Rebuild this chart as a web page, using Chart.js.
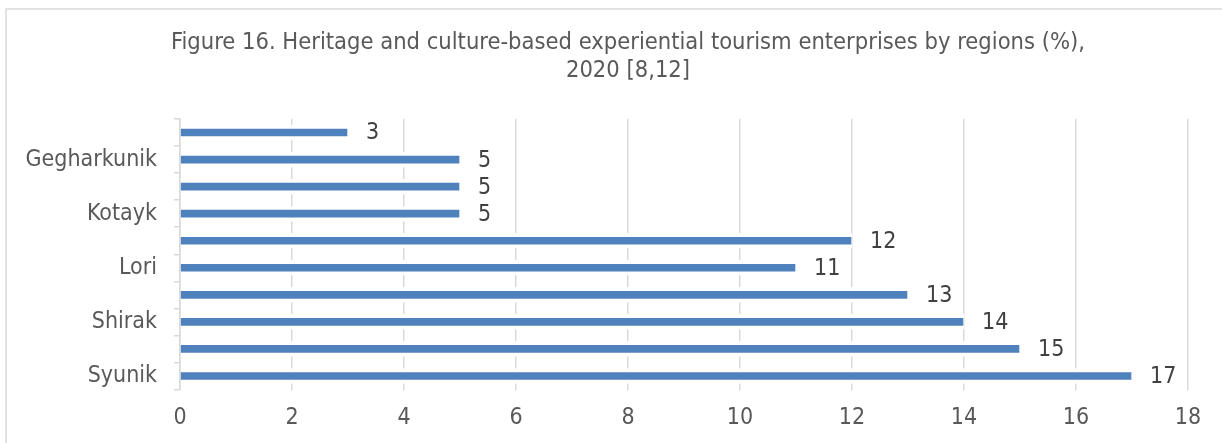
<!DOCTYPE html>
<html>
<head>
<meta charset="utf-8">
<script src="https://cdn.jsdelivr.net/npm/chart.js@4/dist/chart.umd.min.js"></script>
<style>
  html, body { margin: 0; padding: 0; background: #fff; }
  #wrap { width: 1222px; height: 443px; position: relative; }
  canvas { display: block; }
</style>
</head>
<body>
<div id="wrap"><canvas id="c" width="1222" height="443"></canvas></div>
<script>
const titleLines = ["Figure 16. Heritage and culture-based experiential tourism enterprises by regions (%),", "2020 [8,12]"];
const regions = ["Ararat", "Gegharkunik", "Aragatsotn", "Kotayk", "Tavush", "Lori", "Armavir", "Shirak", "Vayots Dzor", "Syunik"];
const shares = [3, 5, 5, 5, 12, 11, 13, 14, 15, 17];
const xTicks = [0, 2, 4, 6, 8, 10, 12, 14, 16, 18];

const FONT = "'DejaVu Sans Condensed', 'DejaVu Sans', sans-serif";

const frame = {
  id: 'frame',
  beforeDraw(chart) {
    const ctx = chart.ctx;
    ctx.save();
    ctx.strokeStyle = '#d9d9d9';
    ctx.lineWidth = 1.5;
    ctx.beginPath();
    ctx.moveTo(6, 443);
    ctx.lineTo(6, 9);
    ctx.lineTo(1222, 9);
    ctx.stroke();
    ctx.restore();
  }
};

const titleText = {
  id: 'titleText',
  afterDraw(chart) {
    const ctx = chart.ctx;
    ctx.save();
    ctx.font = "23.5px " + FONT;
    ctx.fillStyle = '#595959';
    ctx.textAlign = 'center';
    ctx.textBaseline = 'alphabetic';
    const baselines = [49, 76.5];
    titleLines.forEach((t, i) => ctx.fillText(t, 628, baselines[i]));
    ctx.restore();
  }
};

const valueLabels = {
  id: 'valueLabels',
  afterDatasetsDraw(chart) {
    const ctx = chart.ctx;
    const meta = chart.getDatasetMeta(0);
    ctx.save();
    ctx.font = "23px " + FONT;
    ctx.fillStyle = '#404040';
    ctx.textAlign = 'left';
    ctx.textBaseline = 'middle';
    meta.data.forEach((bar, i) => {
      ctx.fillText(String(chart.data.datasets[0].data[i]), bar.x + 18, bar.y + 1);
    });
    ctx.restore();
  }
};

new Chart(document.getElementById('c'), {
  type: 'bar',
  data: {
    labels: regions,
    datasets: [{
      data: shares,
      backgroundColor: '#4f81bd',
      borderColor: '#ffffff',
      borderWidth: { top: 4, bottom: 4, left: 0, right: 1 },
      borderSkipped: false,
      barThickness: 15
    }]
  },
  options: {
    indexAxis: 'y',
    responsive: false,
    animation: false,
    layout: { padding: { left: 0, right: 34, top: 119, bottom: 0 } },
    plugins: {
      legend: { display: false },
      tooltip: { enabled: false },
      title: { display: false }
    },
    scales: {
      x: {
        type: 'linear',
        min: xTicks[0],
        max: xTicks[xTicks.length - 1],
        afterBuildTicks(axis) { axis.ticks = xTicks.map(v => ({ value: v })); },
        afterFit(axis) { axis.height = 53.5; },
        grid: { color: '#d9d9d9', lineWidth: 1.5, drawTicks: false },
        border: { display: false },
        ticks: { color: '#595959', font: { family: FONT, size: 23 }, padding: 15, maxRotation: 0 }
      },
      y: {
        afterFit(axis) { axis.width = 180; },
        grid: { drawOnChartArea: false, drawTicks: true, tickLength: 6, color: '#d9d9d9', lineWidth: 1.5, offset: true },
        border: { display: true, color: '#d9d9d9', width: 1.5 },
        ticks: {
          autoSkip: false,
          color: '#595959',
          font: { family: FONT, size: 23 },
          padding: 17,
          callback(v, i) { return i % 2 === 1 ? regions[i] : ''; }
        }
      }
    }
  },
  plugins: [frame, titleText, valueLabels]
});
</script>
</body>
</html>
